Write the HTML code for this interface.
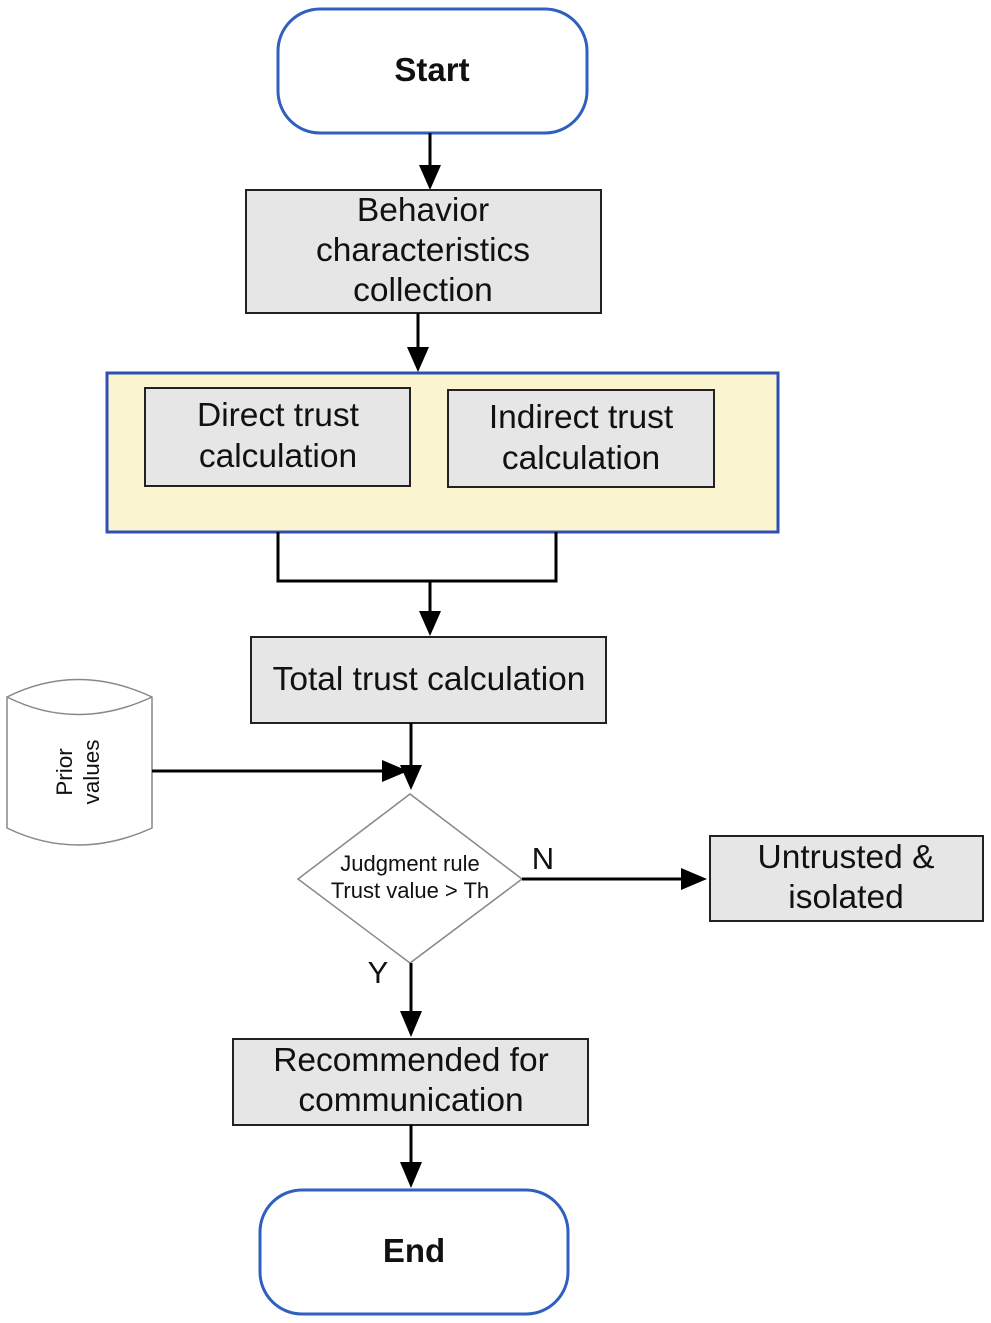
<!DOCTYPE html>
<html><head><meta charset="utf-8"><style>
html,body{margin:0;padding:0;background:#fff;}
svg{display:block;}
text{font-family:"Liberation Sans",Arial,sans-serif;fill:#111;}
</style></head><body>
<svg width="991" height="1323" viewBox="0 0 991 1323" xmlns="http://www.w3.org/2000/svg">
<!-- Start -->
<rect x="278" y="9" width="309" height="124" rx="42" fill="#fff" stroke="#2f5fbf" stroke-width="3"/>
<text x="432" y="81" font-size="33" font-weight="bold" text-anchor="middle">Start</text>
<line x1="430" y1="133" x2="430" y2="168" stroke="#000" stroke-width="3"/>
<polygon points="419,165 441,165 430,190" fill="#000"/>
<!-- Behavior -->
<rect x="246" y="190" width="355" height="123" fill="#e6e6e6" stroke="#222" stroke-width="2"/>
<text font-size="33.5" text-anchor="middle"><tspan x="423" y="221">Behavior</tspan><tspan x="423" y="261">characteristics</tspan><tspan x="423" y="301">collection</tspan></text>
<line x1="418" y1="313" x2="418" y2="350" stroke="#000" stroke-width="3"/>
<polygon points="407,347 429,347 418,372" fill="#000"/>
<!-- Yellow container -->
<rect x="107" y="373" width="671" height="159" fill="#fbf5cf" stroke="#2f4fb5" stroke-width="3"/>
<rect x="145" y="388" width="265" height="98" fill="#e6e6e6" stroke="#222" stroke-width="2"/>
<text font-size="33.5" text-anchor="middle"><tspan x="278" y="426">Direct trust</tspan><tspan x="278" y="467">calculation</tspan></text>
<rect x="448" y="390" width="266" height="97" fill="#e6e6e6" stroke="#222" stroke-width="2"/>
<text font-size="33.5" text-anchor="middle"><tspan x="581" y="428">Indirect trust</tspan><tspan x="581" y="469">calculation</tspan></text>
<polyline points="278,532 278,581 556,581 556,532" fill="none" stroke="#000" stroke-width="3"/>
<line x1="430" y1="581" x2="430" y2="614" stroke="#000" stroke-width="3"/>
<polygon points="419,611 441,611 430,636" fill="#000"/>
<!-- Total -->
<rect x="251" y="637" width="355" height="86" fill="#e6e6e6" stroke="#222" stroke-width="2"/>
<text x="429" y="690" font-size="33.5" text-anchor="middle">Total trust calculation</text>
<line x1="411" y1="723" x2="411" y2="768" stroke="#000" stroke-width="3"/>
<polygon points="400,765 422,765 411,790" fill="#000"/>
<!-- Cylinder -->
<path d="M7,697 Q77,662 152,697 L152,828 Q77,862 7,828 Z" fill="#fff" stroke="#888" stroke-width="1.5"/>
<path d="M7,697 Q77,732 152,697" fill="none" stroke="#888" stroke-width="1.5"/>
<text transform="translate(72,772) rotate(-90)" font-size="22.5" text-anchor="middle">Prior</text>
<text transform="translate(99,772) rotate(-90)" font-size="22.5" text-anchor="middle">values</text>
<line x1="152" y1="771" x2="385" y2="771" stroke="#000" stroke-width="3"/>
<polygon points="382,760 382,782 408,771" fill="#000"/>
<!-- Diamond -->
<polygon points="410,794 522,879 410,963 298,879" fill="#fff" stroke="#888" stroke-width="1.5"/>
<text font-size="22" text-anchor="middle"><tspan x="410" y="871">Judgment rule</tspan><tspan x="410" y="898">Trust value &gt; Th</tspan></text>
<text x="543" y="869" font-size="31" text-anchor="middle">N</text>
<line x1="522" y1="879" x2="684" y2="879" stroke="#000" stroke-width="3"/>
<polygon points="681,868 681,890 707,879" fill="#000"/>
<rect x="710" y="836" width="273" height="85" fill="#e6e6e6" stroke="#222" stroke-width="2"/>
<text font-size="33.5" text-anchor="middle"><tspan x="846" y="868">Untrusted &amp;</tspan><tspan x="846" y="908">isolated</tspan></text>
<text x="378" y="983" font-size="31" text-anchor="middle">Y</text>
<line x1="411" y1="963" x2="411" y2="1014" stroke="#000" stroke-width="3"/>
<polygon points="400,1011 422,1011 411,1037" fill="#000"/>
<!-- Recommended -->
<rect x="233" y="1039" width="355" height="86" fill="#e6e6e6" stroke="#222" stroke-width="2"/>
<text font-size="33.5" text-anchor="middle"><tspan x="411" y="1071">Recommended for</tspan><tspan x="411" y="1111">communication</tspan></text>
<line x1="411" y1="1125" x2="411" y2="1165" stroke="#000" stroke-width="3"/>
<polygon points="400,1162 422,1162 411,1188" fill="#000"/>
<!-- End -->
<rect x="260" y="1190" width="308" height="124" rx="42" fill="#fff" stroke="#2f5fbf" stroke-width="3"/>
<text x="414" y="1262" font-size="33" font-weight="bold" text-anchor="middle">End</text>
</svg>
</body></html>
